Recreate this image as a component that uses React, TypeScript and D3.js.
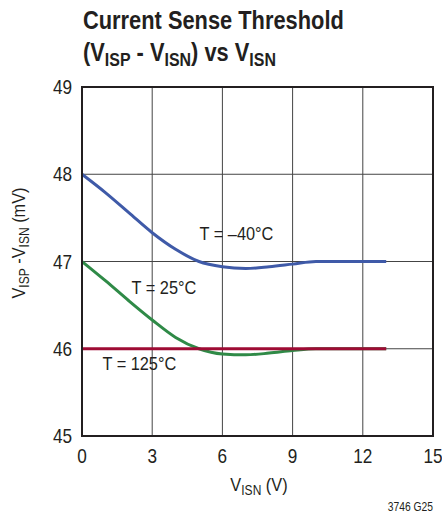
import React from "react";
import * as d3 from "d3";

const xTicks = [0, 3, 6, 9, 12, 15];
const yTicks = [45, 46, 47, 48, 49];

const xValues = [0, 1, 2, 3, 4, 5, 6, 7, 8, 9, 10, 11, 12, 13];
const tMinus40 = [48.0, 47.79, 47.56, 47.33, 47.14, 47.0, 46.94, 46.92, 46.94, 46.97, 47.0, 47.0, 47.0, 47.0];
const t25 = [47.0, 46.78, 46.55, 46.33, 46.13, 46.0, 45.94, 45.93, 45.95, 45.98, 46.0, 46.0, 46.0, 46.0];
const t125 = [46.0, 46.0, 46.0, 46.0, 46.0, 46.0, 46.0, 46.0, 46.0, 46.0, 46.0, 46.0, 46.0, 46.0];

const series = [
  { name: "T = –40°C", values: tMinus40, color: "#3f5aa8", lx: 6.6, ly: 47.25 },
  { name: "T = 25°C", values: t25, color: "#2f8a47", lx: 3.5, ly: 46.63 },
  { name: "T = 125°C", values: t125, color: "#9e0b34", lx: 2.45, ly: 45.76 },
];

const FONT = "'Liberation Sans', Arial, sans-serif";
const INK = "#231f20";

function T(props: { x: number; y: number; sx?: number; rot?: number; children: React.ReactNode; [k: string]: any }) {
  const { x, y, sx = 0.86, rot = 0, children, ...rest } = props;
  return (
    <text transform={`translate(${x},${y}) rotate(${rot}) scale(${sx},1)`} fill={INK} {...rest}>
      {children}
    </text>
  );
}

export default function App() {
  const W = 442, H = 519;
  const x = d3.scaleLinear().domain([0, 15]).range([82, 433]);
  const y = d3.scaleLinear().domain([45, 49]).range([436, 87]);
  const line = d3.line<number>().x((_, i) => x(xValues[i])).y((d) => y(d)).curve(d3.curveMonotoneX);

  return (
    <svg width={W} height={H} style={{ position: "absolute", left: 0, top: 0 }} fontFamily={FONT}>
      <rect width={W} height={H} fill="#fff" />
      <T x={83} y={29} sx={0.84} fontSize={26} fontWeight="bold">Current Sense Threshold</T>
      <T x={83} y={61} sx={0.84} fontSize={26} fontWeight="bold">
        (V<tspan fontSize={19} dy={5}>ISP</tspan><tspan dy={-5}> - V</tspan><tspan fontSize={19} dy={5}>ISN</tspan><tspan dy={-5}>) vs V</tspan><tspan fontSize={19} dy={5}>ISN</tspan>
      </T>
      {xTicks.slice(1, -1).map((t) => (
        <line key={"gx" + t} x1={x(t)} x2={x(t)} y1={y(49)} y2={y(45)} stroke="#444" strokeWidth={1} />
      ))}
      {yTicks.slice(1, -1).map((t) => (
        <line key={"gy" + t} x1={x(0)} x2={x(15)} y1={y(t)} y2={y(t)} stroke="#444" strokeWidth={1} />
      ))}
      {series.map((s) => (
        <path key={s.name} d={line(s.values) || ""} fill="none" stroke={s.color} strokeWidth={3} />
      ))}
      <rect x={x(0)} y={y(49)} width={x(15) - x(0)} height={y(45) - y(49)} fill="none" stroke={INK} strokeWidth={2} />
      {series.map((s) => (
        <T key={"l" + s.name} x={x(s.lx)} y={y(s.ly)} fontSize={19} textAnchor="middle">{s.name}</T>
      ))}
      {yTicks.map((t) => (
        <T key={"yt" + t} x={72} y={y(t) + 7} fontSize={20} textAnchor="end">{t}</T>
      ))}
      {xTicks.map((t) => (
        <T key={"xt" + t} x={x(t)} y={463} fontSize={20} textAnchor="middle">{t}</T>
      ))}
      <T x={259} y={491} fontSize={19} textAnchor="middle">
        V<tspan fontSize={14} dy={4}>ISN</tspan><tspan dy={-4}> (V)</tspan>
      </T>
      <T x={25} y={243} rot={-90} fontSize={19} textAnchor="middle">
        V<tspan fontSize={14} dy={4}>ISP</tspan><tspan dy={-4}> -V</tspan><tspan fontSize={14} dy={4}>ISN</tspan><tspan dy={-4}> (mV)</tspan>
      </T>
      <T x={433} y={511} fontSize={12} textAnchor="end">3746 G25</T>
    </svg>
  );
}
